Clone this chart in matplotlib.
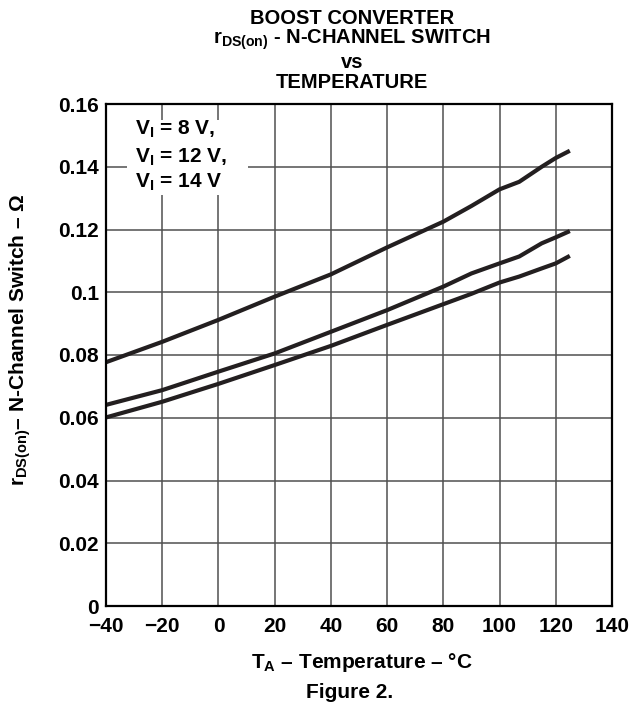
import matplotlib
matplotlib.use('Agg')
import matplotlib.pyplot as plt
import matplotlib.patches as patches

plt.rcParams['font.family'] = ['Liberation Sans', 'DejaVu Sans']
plt.rcParams['font.weight'] = 'bold'
plt.rcParams['mathtext.fontset'] = 'custom'
plt.rcParams['mathtext.rm'] = 'Liberation Sans:bold'
plt.rcParams['mathtext.bf'] = 'Liberation Sans:bold'
plt.rcParams['mathtext.it'] = 'Liberation Sans:bold'

# temperature points (deg C)
temp = [-40, -20, 0, 20, 40, 60, 80, 90, 100, 107, 115, 120, 125]
# three rDS(on) curves, top to bottom (ohm)
r_upper = [0.0777, 0.0842, 0.0912, 0.0986, 0.1057, 0.1143, 0.1225, 0.1275, 0.1328, 0.1352, 0.1400, 0.1428, 0.1451]
r_middle = [0.0641, 0.0688, 0.0747, 0.0805, 0.0874, 0.0943, 0.1018, 0.1060, 0.1092, 0.1114, 0.1156, 0.1175, 0.1195]
r_lower = [0.0601, 0.0651, 0.0708, 0.0768, 0.0829, 0.0896, 0.0962, 0.0995, 0.1031, 0.1050, 0.1076, 0.1092, 0.1116]

x_ticks = [-40, -20, 0, 20, 40, 60, 80, 100, 120, 140]
y_ticks = [0, 0.02, 0.04, 0.06, 0.08, 0.1, 0.12, 0.14, 0.16]
y_tick_labels = ['0', '0.02', '0.04', '0.06', '0.08', '0.1', '0.12', '0.14', '0.16']
x_tick_labels = ['\u2212' + str(-t) if t < 0 else str(t) for t in x_ticks]
legend_lines = [r'V$_{\mathbf{I}}$ = 8 V,', r'V$_{\mathbf{I}}$ = 12 V,', r'V$_{\mathbf{I}}$ = 14 V']

W, H = 641, 702
fig = plt.figure(figsize=(W / 100, H / 100), dpi=100)
# axes box in pixels: x 106..612, y 104..606 (top-down)
ax = fig.add_axes([106 / W, 1 - 606 / H, (612 - 106) / W, (606 - 104) / H])

line_color = '#231f20'
for vals in (r_upper, r_middle, r_lower):
    ax.plot(temp, vals, color=line_color, lw=3.0, solid_capstyle='butt', zorder=3)

ax.set_xlim(-40, 140)
ax.set_ylim(0, 0.16)
ax.set_xticks(x_ticks)
ax.set_xticklabels(x_tick_labels)
ax.set_yticks(y_ticks)
ax.set_yticklabels(y_tick_labels)
ax.tick_params(axis='both', length=0, labelsize=15)
ax.tick_params(axis='x', pad=8)
ax.tick_params(axis='y', pad=5)
ax.grid(True, color='#505050', lw=1.1, zorder=1)
for sp in ax.spines.values():
    sp.set_linewidth(1.6)
    sp.set_color('black')
    sp.set_zorder(4)

# white box behind the legend text
box = patches.Rectangle((0.0415, 0.8187), 0.2391, 0.1493, transform=ax.transAxes,
                        facecolor='white', edgecolor='none', zorder=2)
ax.add_patch(box)
for txt, yb in zip(legend_lines, [0.938, 0.884, 0.833]):
    ax.text(0.0573, yb, txt, transform=ax.transAxes, fontsize=15, fontweight='bold',
            va='baseline', ha='left', zorder=5)

# title lines
title_x = 352 / W
title_fs = 14.5
fig.text(title_x, 1 - 24 / H, 'BOOST CONVERTER', ha='center', va='baseline', fontsize=title_fs, fontweight='bold')
fig.text(title_x, 1 - 44 / H, r'r$_{\mathbf{DS(on)}}$ - N-CHANNEL SWITCH', ha='center', va='baseline', fontsize=title_fs, fontweight='bold')
fig.text(title_x, 1 - 68 / H, 'vs', ha='center', va='baseline', fontsize=title_fs, fontweight='bold')
fig.text(title_x, 1 - 88 / H, 'TEMPERATURE', ha='center', va='baseline', fontsize=title_fs, fontweight='bold')

# axis labels
fig.text(362 / W, 1 - 668 / H, r'T$_{\mathbf{A}}$' + ' \u2013 Temperature \u2013 \u00b0C',
         ha='center', va='baseline', fontsize=15, fontweight='bold')
fig.text(20 / W, 1 - 340 / H, r'r$_{\mathbf{DS(on)}}$' + '\u2013 N-Channel Switch \u2013 \u03a9',
         ha='center', va='center', rotation=90, fontsize=15, fontweight='bold')
fig.text(350 / W, 1 - 698 / H, 'Figure 2.', ha='center', va='baseline', fontsize=15, fontweight='bold')

fig.savefig('out.png', dpi=100)
